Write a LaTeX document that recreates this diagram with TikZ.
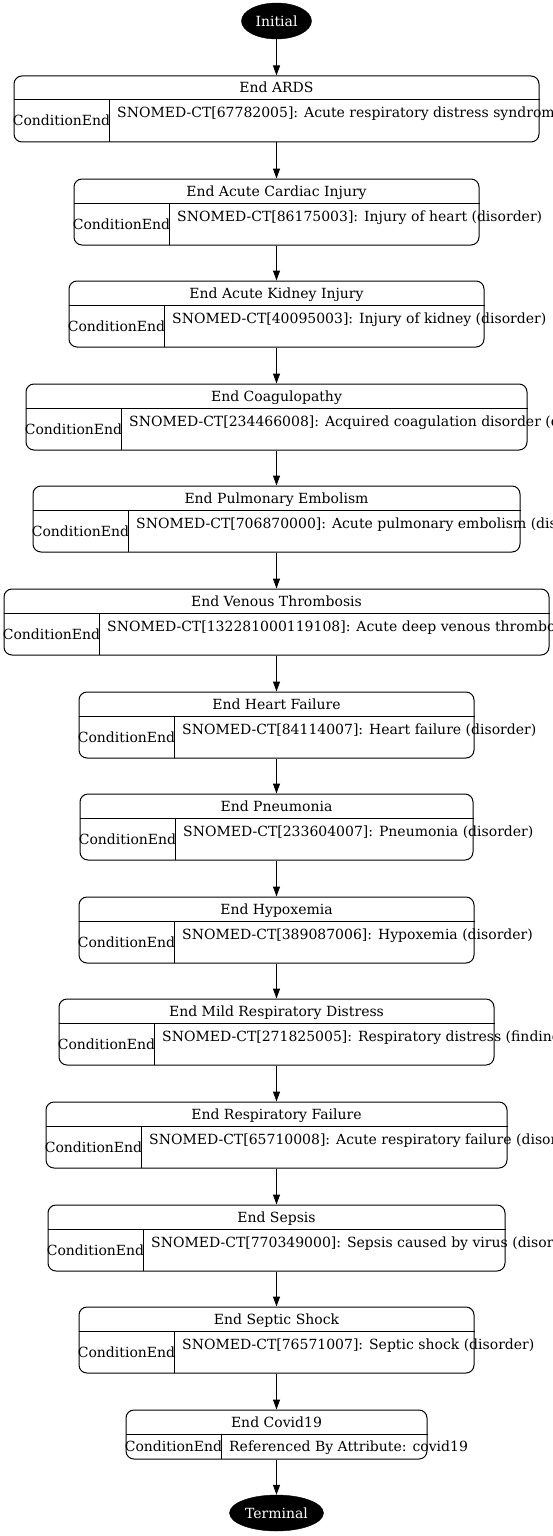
\documentclass[tikz,border=0pt]{standalone}
\usepackage{fontspec}
\setmainfont{DejaVu Serif}
\usepackage{xcolor}
\usepackage{tikz}
\usetikzlibrary{arrows.meta, shapes.geometric}

\begin{document}
\begin{tikzpicture}[
    x=1pt, y=-1pt,
    >={Triangle[length=10pt, width=7pt]},
    flow_arrow/.style={draw=black, line width=1pt, ->},
    cell_line/.style={draw=black, line width=1pt},
    % Start / end states
    state_node/.style={ellipse, fill=black, draw=black, text=white, inner sep=0pt, minimum height=36pt, font=\fontsize{14}{16}\selectfont},
    % Condition boxes
    cond_box/.style={rectangle, rounded corners=8pt, draw=black, line width=1pt, inner sep=0pt, minimum height=66pt},
    title_text/.style={anchor=base, inner sep=0pt, font=\fontsize{14}{16}\selectfont},
    kind_text/.style={anchor=base, inner sep=0pt, font=\fontsize{14}{16}\selectfont},
    code_text/.style={anchor=base west, inner sep=0pt, font=\fontsize{14}{16}\selectfont}
]
    \useasboundingbox (0,0) rectangle (553,1536);

    % =========================================================================
    % INITIAL
    % =========================================================================
    \node [state_node, minimum width=70pt] (initial) at (276.5, 21) {Initial};

    % =========================================================================
    % CONDITION END BOXES
    % =========================================================================
    \node [cond_box, minimum width=525pt] (ards) at (276.5, 109) {};
    \draw [cell_line] (ards.west |- 0,100) -- (ards.east |- 0,100);
    \draw [cell_line] (109,100) -- (109,142);
    \node [title_text] (ards_title) at (276.5, 93) {End ARDS};
    \node [kind_text] (ards_kind) at (61.5, 126) {ConditionEnd};
    \node [code_text] (ards_code) at (117, 118) {SNOMED-CT[67782005]: Acute respiratory distress syndrom};

    \node [cond_box, minimum width=405pt] (cardiac) at (276.5, 212) {};
    \draw [cell_line] (cardiac.west |- 0,203) -- (cardiac.east |- 0,203);
    \draw [cell_line] (169,203) -- (169,245);
    \node [title_text] (cardiac_title) at (276.5, 196) {End Acute Cardiac Injury};
    \node [kind_text] (cardiac_kind) at (121.5, 229) {ConditionEnd};
    \node [code_text] (cardiac_code) at (177, 221) {SNOMED-CT[86175003]: Injury of heart (disorder)};

    \node [cond_box, minimum width=415pt] (kidney) at (276.5, 314) {};
    \draw [cell_line] (kidney.west |- 0,305) -- (kidney.east |- 0,305);
    \draw [cell_line] (164,305) -- (164,347);
    \node [title_text] (kidney_title) at (276.5, 298) {End Acute Kidney Injury};
    \node [kind_text] (kidney_kind) at (116.5, 331) {ConditionEnd};
    \node [code_text] (kidney_code) at (172, 323) {SNOMED-CT[40095003]: Injury of kidney (disorder)};

    \node [cond_box, minimum width=501pt] (coag) at (276.5, 417) {};
    \draw [cell_line] (coag.west |- 0,408) -- (coag.east |- 0,408);
    \draw [cell_line] (121,408) -- (121,450);
    \node [title_text] (coag_title) at (276.5, 401) {End Coagulopathy};
    \node [kind_text] (coag_kind) at (73.5, 434) {ConditionEnd};
    \node [code_text] (coag_code) at (129, 426) {SNOMED-CT[234466008]: Acquired coagulation disorder (d};

    \node [cond_box, minimum width=487pt] (embolism) at (276.5, 519) {};
    \draw [cell_line] (embolism.west |- 0,510) -- (embolism.east |- 0,510);
    \draw [cell_line] (128,510) -- (128,552);
    \node [title_text] (embolism_title) at (276.5, 503) {End Pulmonary Embolism};
    \node [kind_text] (embolism_kind) at (80.5, 536) {ConditionEnd};
    \node [code_text] (embolism_code) at (136, 528) {SNOMED-CT[706870000]: Acute pulmonary embolism (dis};

    \node [cond_box, minimum width=545pt] (thrombosis) at (276.5, 622) {};
    \draw [cell_line] (thrombosis.west |- 0,613) -- (thrombosis.east |- 0,613);
    \draw [cell_line] (99,613) -- (99,655);
    \node [title_text] (thrombosis_title) at (276.5, 606) {End Venous Thrombosis};
    \node [kind_text] (thrombosis_kind) at (51.5, 639) {ConditionEnd};
    \node [code_text] (thrombosis_code) at (107, 631) {SNOMED-CT[132281000119108]: Acute deep venous thrombo};

    \node [cond_box, minimum width=395pt] (heart) at (276.5, 725) {};
    \draw [cell_line] (heart.west |- 0,716) -- (heart.east |- 0,716);
    \draw [cell_line] (174,716) -- (174,758);
    \node [title_text] (heart_title) at (276.5, 709) {End Heart Failure};
    \node [kind_text] (heart_kind) at (126.5, 742) {ConditionEnd};
    \node [code_text] (heart_code) at (182, 734) {SNOMED-CT[84114007]: Heart failure (disorder)};

    \node [cond_box, minimum width=393pt] (pneumonia) at (276.5, 827) {};
    \draw [cell_line] (pneumonia.west |- 0,818) -- (pneumonia.east |- 0,818);
    \draw [cell_line] (175,818) -- (175,860);
    \node [title_text] (pneumonia_title) at (276.5, 811) {End Pneumonia};
    \node [kind_text] (pneumonia_kind) at (127.5, 844) {ConditionEnd};
    \node [code_text] (pneumonia_code) at (183, 836) {SNOMED-CT[233604007]: Pneumonia (disorder)};

    \node [cond_box, minimum width=395pt] (hypoxemia) at (276.5, 930) {};
    \draw [cell_line] (hypoxemia.west |- 0,921) -- (hypoxemia.east |- 0,921);
    \draw [cell_line] (174,921) -- (174,963);
    \node [title_text] (hypoxemia_title) at (276.5, 914) {End Hypoxemia};
    \node [kind_text] (hypoxemia_kind) at (126.5, 947) {ConditionEnd};
    \node [code_text] (hypoxemia_code) at (182, 939) {SNOMED-CT[389087006]: Hypoxemia (disorder)};

    \node [cond_box, minimum width=435pt] (distress) at (276.5, 1032) {};
    \draw [cell_line] (distress.west |- 0,1023) -- (distress.east |- 0,1023);
    \draw [cell_line] (154,1023) -- (154,1065);
    \node [title_text] (distress_title) at (276.5, 1016) {End Mild Respiratory Distress};
    \node [kind_text] (distress_kind) at (106.5, 1049) {ConditionEnd};
    \node [code_text] (distress_code) at (162, 1041) {SNOMED-CT[271825005]: Respiratory distress (finding};

    \node [cond_box, minimum width=461pt] (respfail) at (276.5, 1135) {};
    \draw [cell_line] (respfail.west |- 0,1126) -- (respfail.east |- 0,1126);
    \draw [cell_line] (141,1126) -- (141,1168);
    \node [title_text] (respfail_title) at (276.5, 1119) {End Respiratory Failure};
    \node [kind_text] (respfail_kind) at (93.5, 1152) {ConditionEnd};
    \node [code_text] (respfail_code) at (149, 1144) {SNOMED-CT[65710008]: Acute respiratory failure (disor};

    \node [cond_box, minimum width=457pt] (sepsis) at (276.5, 1238) {};
    \draw [cell_line] (sepsis.west |- 0,1229) -- (sepsis.east |- 0,1229);
    \draw [cell_line] (143,1229) -- (143,1271);
    \node [title_text] (sepsis_title) at (276.5, 1222) {End Sepsis};
    \node [kind_text] (sepsis_kind) at (95.5, 1255) {ConditionEnd};
    \node [code_text] (sepsis_code) at (151, 1247) {SNOMED-CT[770349000]: Sepsis caused by virus (disor};

    \node [cond_box, minimum width=395pt] (shock) at (276.5, 1340) {};
    \draw [cell_line] (shock.west |- 0,1331) -- (shock.east |- 0,1331);
    \draw [cell_line] (174,1331) -- (174,1373);
    \node [title_text] (shock_title) at (276.5, 1324) {End Septic Shock};
    \node [kind_text] (shock_kind) at (126.5, 1357) {ConditionEnd};
    \node [code_text] (shock_code) at (182, 1349) {SNOMED-CT[76571007]: Septic shock (disorder)};

    \node [cond_box, minimum width=301pt, minimum height=49pt] (covid) at (276.5, 1434.5) {};
    \draw [cell_line] (covid.west |- 0,1434) -- (covid.east |- 0,1434);
    \draw [cell_line] (221,1434) -- (221,1459);
    \node [title_text] (covid_title) at (276.5, 1427) {End Covid19};
    \node [kind_text] (covid_kind) at (173.5, 1451) {ConditionEnd};
    \node [code_text] (covid_code) at (229, 1451) {Referenced By Attribute: covid19};

    % =========================================================================
    % TERMINAL
    % =========================================================================
    \node [state_node, minimum width=94pt] (terminal) at (276.5, 1513) {Terminal};

    % Transitions
    \draw [flow_arrow] (initial) -- (ards);
    \draw [flow_arrow] (ards) -- (cardiac);
    \draw [flow_arrow] (cardiac) -- (kidney);
    \draw [flow_arrow] (kidney) -- (coag);
    \draw [flow_arrow] (coag) -- (embolism);
    \draw [flow_arrow] (embolism) -- (thrombosis);
    \draw [flow_arrow] (thrombosis) -- (heart);
    \draw [flow_arrow] (heart) -- (pneumonia);
    \draw [flow_arrow] (pneumonia) -- (hypoxemia);
    \draw [flow_arrow] (hypoxemia) -- (distress);
    \draw [flow_arrow] (distress) -- (respfail);
    \draw [flow_arrow] (respfail) -- (sepsis);
    \draw [flow_arrow] (sepsis) -- (shock);
    \draw [flow_arrow] (shock) -- (covid);
    \draw [flow_arrow] (covid) -- (terminal);
\end{tikzpicture}
\end{document}
